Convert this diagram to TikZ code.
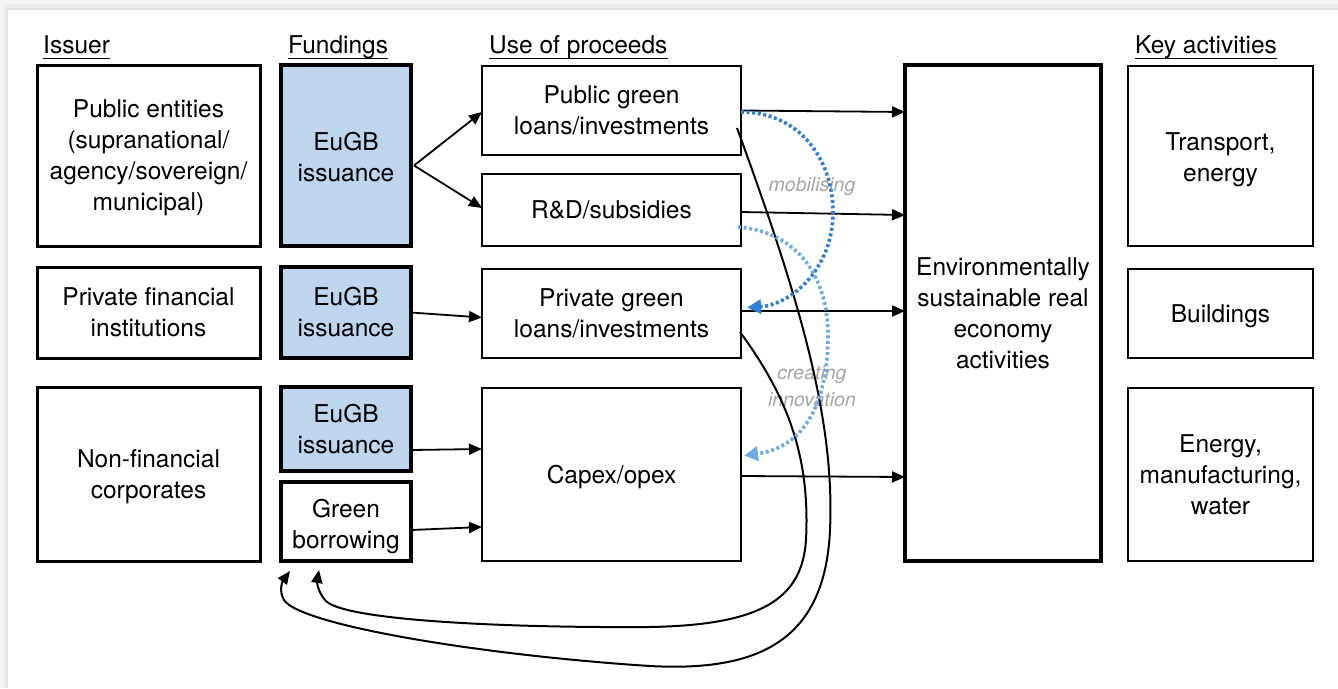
\documentclass[tikz,border=0pt]{standalone}
\usepackage{fontspec}
\setmainfont{TeX Gyre Heros}
\usetikzlibrary{arrows.meta,calc}
\definecolor{eugb}{RGB}{189,214,238}
\definecolor{mobblue}{RGB}{50,128,212}
\definecolor{innblue}{RGB}{110,170,230}
\definecolor{labgray}{RGB}{165,165,165}
\newcommand\boxtext[2][0pt]{\raisebox{\dimexpr-2.7pt-#1\relax}[\height][\depth]{\begin{tabular}{@{}c@{}}#2\end{tabular}}}
\tikzset{
  box/.style={draw, rectangle, align=center, inner sep=0pt, outer sep=0pt},
  ibox/.style={box, line width=3pt},
  fbox/.style={box, line width=3.5pt, fill=eugb},
  gbox/.style={box, line width=3.5pt},
  ubox/.style={box, line width=2pt},
  ebox/.style={box, line width=4pt},
  kbox/.style={box, line width=2pt},
  head/.style={anchor=base west, inner sep=0pt},
  uline/.style={line width=1.5pt},
  conn/.style={line width=1.8pt, -{Triangle[length=13pt,width=11pt]}},
  back/.style={line width=2pt, -{Triangle[length=13pt,width=11pt]}},
  mob/.style={draw=mobblue, line width=3.6pt, dash pattern=on 3pt off 2.6pt, -{Triangle[length=14pt,width=14pt]}},
  inn/.style={draw=innblue, line width=3.6pt, dash pattern=on 3pt off 2.6pt, -{Triangle[length=14pt,width=14pt]}},
  lab/.style={text=labgray, font=\fontsize{19.5}{27}\selectfont\itshape, align=center, inner sep=0pt}
}
\begin{document}
\begin{tikzpicture}[x=1pt,y=-1pt,font=\fontsize{24.5}{31}\selectfont]
\useasboundingbox (0,0) rectangle (1338,688);
% card and shadow
\fill[black!4] (0,0) rectangle (1338,688);
\fill[black!7] (3,4) rectangle (1338,688);
\fill[black!11] (6,8) rectangle (1338,688);
\fill[white] (8,10) rectangle (1338,688);

% headers
\node[head] (hiss) at (43,53.5) {Issuer};
\node[head] (hfun) at (288,53.5) {Fundings};
\node[head] (huse) at (489,53.5) {Use of proceeds};
\node[head] (hkey) at (1135,53.5) {Key activities};
\foreach \h in {hiss,hfun,huse,hkey}
  \draw[uline] ([yshift=-5pt]\h.base west) -- ([yshift=-5pt]\h.base east);

% issuers
\node[ibox, minimum width=223pt, minimum height=181pt] (pe) at (148.5,155.5) {\boxtext{Public entities\\(supranational/\\agency/sovereign/\\municipal)}};
\node[ibox, minimum width=223pt, minimum height=91pt] (pfi) at (148.5,312.5) {\boxtext{Private financial\\institutions}};
\node[ibox, minimum width=223pt, minimum height=174pt] (nfc) at (148.5,474) {\boxtext{Non-financial\\corporates}};

% fundings
\node[fbox, minimum width=130pt, minimum height=181pt] (f1) at (346,155.5) {\boxtext[1.5pt]{EuGB\\issuance}};
\node[fbox, minimum width=130pt, minimum height=91pt] (f2) at (346,312.5) {\boxtext{EuGB\\issuance}};
\node[fbox, minimum width=130pt, minimum height=84pt] (f3) at (346,429) {\boxtext{EuGB\\issuance}};
\node[gbox, minimum width=130pt, minimum height=79pt] (gb) at (346,521.5) {\boxtext[3pt]{Green\\borrowing}};

% use of proceeds
\node[ubox, minimum width=259pt, minimum height=89pt] (pub) at (611.5,110.5) {\boxtext{Public green\\loans/investments}};
\node[ubox, minimum width=259pt, minimum height=72pt] (rd) at (611.5,210) {\boxtext{R\&D/subsidies}};
\node[ubox, minimum width=259pt, minimum height=89pt] (priv) at (611.5,313.5) {\boxtext{Private green\\loans/investments}};
\node[ubox, minimum width=259pt, minimum height=173pt] (cap) at (611.5,474.5) {\boxtext{Capex/opex}};

% environment
\node[ebox, minimum width=196pt, minimum height=496pt] (env) at (1003,313) {\boxtext{Environmentally\\sustainable real\\economy\\activities}};

% key activities
\node[kbox, minimum width=185pt, minimum height=180pt] (k1) at (1220.5,156) {\boxtext[1.5pt]{Transport,\\energy}};
\node[kbox, minimum width=185pt, minimum height=89pt] (k2) at (1220.5,313.5) {\boxtext{Buildings}};
\node[kbox, minimum width=185pt, minimum height=173pt] (k3) at (1220.5,474.5) {\boxtext{Energy,\\manufacturing,\\water}};

% labels
\node[lab] (lmob) at (812,187) {mobilising};
\node[lab] (linn) at (812,386) {creating\\innovation};

% funding -> use
\coordinate (f1o) at ($(f1.east)+(3,10)$);
\draw[conn] (f1o) -- ($(pub.west)+(0,1.5)$);
\draw[conn] (f1o) -- ($(rd.west)+(0,-2)$);
\draw[conn] (f2.east) -- ($(priv.west)+(0,4)$);
\draw[conn] ($(f3.east)+(0,21)$) -- ($(cap.west)+(0,-25.5)$);
\draw[conn] ($(gb.east)+(0,8.5)$) -- ($(cap.west)+(0,52.5)$);

% use -> env
\draw[conn] (pub.east) -- ($(env.west)+(0,-201)$);
\draw[conn] ($(rd.east)+(0,2)$) -- ($(env.west)+(0,-98)$);
\draw[conn] ($(priv.east)+(0,-2.5)$) -- ($(env.west)+(0,-2)$);
\draw[conn] ($(cap.east)+(0,1.5)$) -- ($(env.west)+(0,164)$);

% feedback curves to green borrowing
\draw[back] ($(pub.east)+(-4,17.5)$) .. controls (800,300) and (835,420) .. (830,530)
  .. controls (825,640) and (760,672) .. (650,666)
  .. controls (480,655) and (300,625) .. (284,600)
  .. controls (279,592) and (282,582) .. ($(gb.south west)+(9,10)$);
\draw[back] ($(priv.east)+(-1,18.5)$) .. controls (790,400) and (810,460) .. (806,540)
  .. controls (802,600) and (760,625) .. (650,627)
  .. controls (500,628) and (340,620) .. (325,600)
  .. controls (318,592) and (317,582) .. ($(gb.south west)+(38,9)$);

% dotted blue arcs
\draw[mob] ($(pub.east)+(0,1.5)$) .. controls (800,112) and (833,160) .. (833,212)
  .. controls (833,270) and (790,305) .. ($(priv.east)+(6,-6)$);
\draw[inn] ($(rd.east)+(-3,17)$) .. controls (800,232) and (828,280) .. (828,335)
  .. controls (828,410) and (800,448) .. ($(cap.east)+(3,-19)$);
\end{tikzpicture}
\end{document}
